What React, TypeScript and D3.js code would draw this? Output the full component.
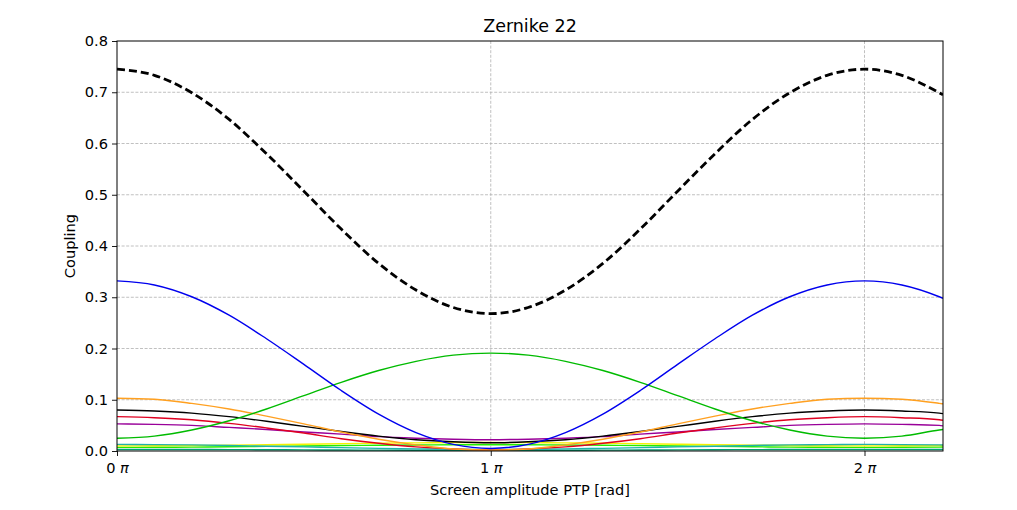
import React, { useEffect, useRef } from "react";
import * as d3 from "d3";

// x positions in units of pi
const xs = [0, 0.1, 0.2, 0.3, 0.4, 0.5, 0.6, 0.7, 0.8, 0.9, 1.0, 1.1, 1.2, 1.3, 1.4, 1.5, 1.6, 1.7, 1.8, 1.9, 2.0, 2.1, 2.2, 2.21];

const total = [0.745, 0.733, 0.699, 0.647, 0.580, 0.507, 0.433, 0.366, 0.314, 0.280, 0.268, 0.280, 0.314, 0.366, 0.433, 0.507, 0.580, 0.647, 0.699, 0.733, 0.745, 0.733, 0.699, 0.695];
const blue = [0.332, 0.324, 0.301, 0.265, 0.219, 0.169, 0.118, 0.072, 0.036, 0.013, 0.005, 0.013, 0.036, 0.072, 0.118, 0.169, 0.219, 0.265, 0.301, 0.324, 0.332, 0.324, 0.301, 0.298];
const green = [0.025, 0.029, 0.041, 0.059, 0.082, 0.108, 0.134, 0.157, 0.175, 0.187, 0.191, 0.187, 0.175, 0.157, 0.134, 0.108, 0.082, 0.059, 0.041, 0.029, 0.025, 0.029, 0.041, 0.042];
const orange = [0.103, 0.101, 0.093, 0.082, 0.068, 0.053, 0.037, 0.023, 0.012, 0.004, 0.002, 0.004, 0.012, 0.023, 0.037, 0.053, 0.068, 0.082, 0.093, 0.101, 0.103, 0.101, 0.093, 0.092];
const black = [0.080, 0.078, 0.074, 0.067, 0.058, 0.048, 0.038, 0.029, 0.022, 0.018, 0.016, 0.018, 0.022, 0.029, 0.038, 0.048, 0.058, 0.067, 0.074, 0.078, 0.080, 0.078, 0.074, 0.073];
const red = [0.067, 0.065, 0.061, 0.054, 0.045, 0.035, 0.024, 0.015, 0.008, 0.004, 0.002, 0.004, 0.008, 0.015, 0.024, 0.035, 0.045, 0.054, 0.061, 0.065, 0.067, 0.065, 0.061, 0.060];
const purple = [0.053, 0.052, 0.050, 0.046, 0.042, 0.037, 0.033, 0.028, 0.025, 0.023, 0.022, 0.023, 0.025, 0.028, 0.033, 0.037, 0.042, 0.046, 0.050, 0.052, 0.053, 0.052, 0.050, 0.049];
const teal = [0.013, 0.0125, 0.012, 0.0108, 0.0094, 0.008, 0.0065, 0.0052, 0.0041, 0.0034, 0.0032, 0.0034, 0.0041, 0.0052, 0.0065, 0.008, 0.0094, 0.0108, 0.012, 0.0125, 0.013, 0.0125, 0.012, 0.0118];
const yellow = [0.010, 0.0102, 0.0107, 0.0114, 0.0123, 0.0133, 0.0143, 0.0152, 0.0159, 0.0163, 0.0165, 0.0163, 0.0159, 0.0152, 0.0143, 0.0133, 0.0123, 0.0114, 0.0107, 0.0102, 0.010, 0.0102, 0.0107, 0.0108];
const lime = [0.007, 0.0072, 0.0076, 0.0082, 0.009, 0.0098, 0.0106, 0.0113, 0.0118, 0.0121, 0.0122, 0.0121, 0.0118, 0.0113, 0.0106, 0.0098, 0.009, 0.0082, 0.0076, 0.0072, 0.007, 0.0072, 0.0076, 0.0077];
const seagreen = [0.003, 0.003, 0.0029, 0.0027, 0.0025, 0.0022, 0.0019, 0.0017, 0.0015, 0.0014, 0.0014, 0.0014, 0.0015, 0.0017, 0.0019, 0.0022, 0.0025, 0.0027, 0.0029, 0.003, 0.003, 0.003, 0.0029, 0.0029];

const seriesList = [
    { values: seagreen, color: "#00a070" },
    { values: lime, color: "#22ee00" },
    { values: yellow, color: "#f5f000" },
    { values: teal, color: "#20b2aa" },
    { values: purple, color: "#990099" },
    { values: red, color: "#e00020" },
    { values: black, color: "#000000" },
    { values: orange, color: "#ffa020" },
    { values: green, color: "#00bb00" },
    { values: blue, color: "#0000ee" },
];

const yTicks = [0, 0.1, 0.2, 0.3, 0.4, 0.5, 0.6, 0.7, 0.8];
const xTicks = [0, 1, 2];

const width = 1017;
const height = 510;
const margin = { left: 117, right: 74, top: 41, bottom: 59 };
const font = "DejaVu Sans, sans-serif";

const App = () => {
    const ref = useRef<SVGSVGElement>(null);

    useEffect(() => {
        const svg = d3.select(ref.current);
        svg.selectAll("*").remove();

        const x = d3.scaleLinear().domain([0, 2.21]).range([margin.left, width - margin.right]);
        const y = d3.scaleLinear().domain([0, 0.8]).range([height - margin.bottom, margin.top]);

        // grid
        const grid = svg.append("g").attr("stroke", "#b0b0b0").attr("stroke-width", 0.8).attr("stroke-dasharray", "3,1.6");
        yTicks.slice(1, -1).forEach((t) => {
            grid.append("line").attr("x1", margin.left).attr("x2", width - margin.right).attr("y1", y(t)).attr("y2", y(t));
        });
        xTicks.slice(1).forEach((t) => {
            grid.append("line").attr("x1", x(t)).attr("x2", x(t)).attr("y1", margin.top).attr("y2", height - margin.bottom);
        });

        svg.append("clipPath").attr("id", "plotclip").append("rect")
            .attr("x", margin.left).attr("y", margin.top)
            .attr("width", width - margin.left - margin.right).attr("height", height - margin.top - margin.bottom);

        const line = (vals: number[]) =>
            // @ts-ignore
            d3.line<number>().x((_, i) => x(xs[i])).y((d) => y(d)).curve(d3.curveMonotoneX)(vals);

        const plot = svg.append("g").attr("clip-path", "url(#plotclip)");
        seriesList.forEach((s) => {
            plot.append("path").attr("d", line(s.values)).attr("fill", "none").attr("stroke", s.color).attr("stroke-width", 1.4);
        });
        plot.append("path").attr("d", line(total)).attr("fill", "none").attr("stroke", "#000")
            .attr("stroke-width", 2.8).attr("stroke-dasharray", "8,4");

        // axes
        const yAxis = svg.append("g").attr("transform", `translate(${margin.left},0)`)
            .call(d3.axisLeft(y).tickValues(yTicks).tickSize(5).tickPadding(4).tickFormat(d3.format(".1f")));
        const xAxis = svg.append("g").attr("transform", `translate(0,${height - margin.bottom})`)
            // @ts-ignore
            .call(d3.axisBottom(x).tickValues(xTicks).tickSize(5).tickPadding(4).tickFormat(() => ""));
        [yAxis, xAxis].forEach((a) => {
            a.select(".domain").remove();
            a.selectAll("line").attr("stroke", "#000").attr("stroke-width", 0.9);
            a.selectAll("text").attr("font-family", font).attr("font-size", 14.6).attr("fill", "#000");
        });
        xAxis.selectAll(".tick").each(function (d) {
            const t = d3.select(this).append("text").attr("y", 22).attr("text-anchor", "middle")
                .attr("font-family", font).attr("font-size", 14.6).attr("fill", "#000");
            t.append("tspan").text(`${d} `);
            t.append("tspan").attr("font-style", "italic").text("π");
        });

        svg.append("rect").attr("x", margin.left).attr("y", margin.top)
            .attr("width", width - margin.left - margin.right).attr("height", height - margin.top - margin.bottom)
            .attr("fill", "none").attr("stroke", "#000").attr("stroke-width", 1);

        svg.append("text").attr("x", (margin.left + width - margin.right) / 2).attr("y", 32)
            .attr("text-anchor", "middle").attr("font-family", font).attr("font-size", 17.5).text("Zernike 22");
        svg.append("text").attr("x", (margin.left + width - margin.right) / 2).attr("y", 495)
            .attr("text-anchor", "middle").attr("font-family", font).attr("font-size", 14.6).text("Screen amplitude PTP [rad]");
        svg.append("text").attr("transform", `translate(75,${(margin.top + height - margin.bottom) / 2}) rotate(-90)`)
            .attr("text-anchor", "middle").attr("font-family", font).attr("font-size", 14.6).text("Coupling");
    }, []);

    return (
        <svg ref={ref} width={width} height={height} style={{ position: "absolute", left: 0, top: 0, background: "#fff" }} />
    );
};

export default App;
